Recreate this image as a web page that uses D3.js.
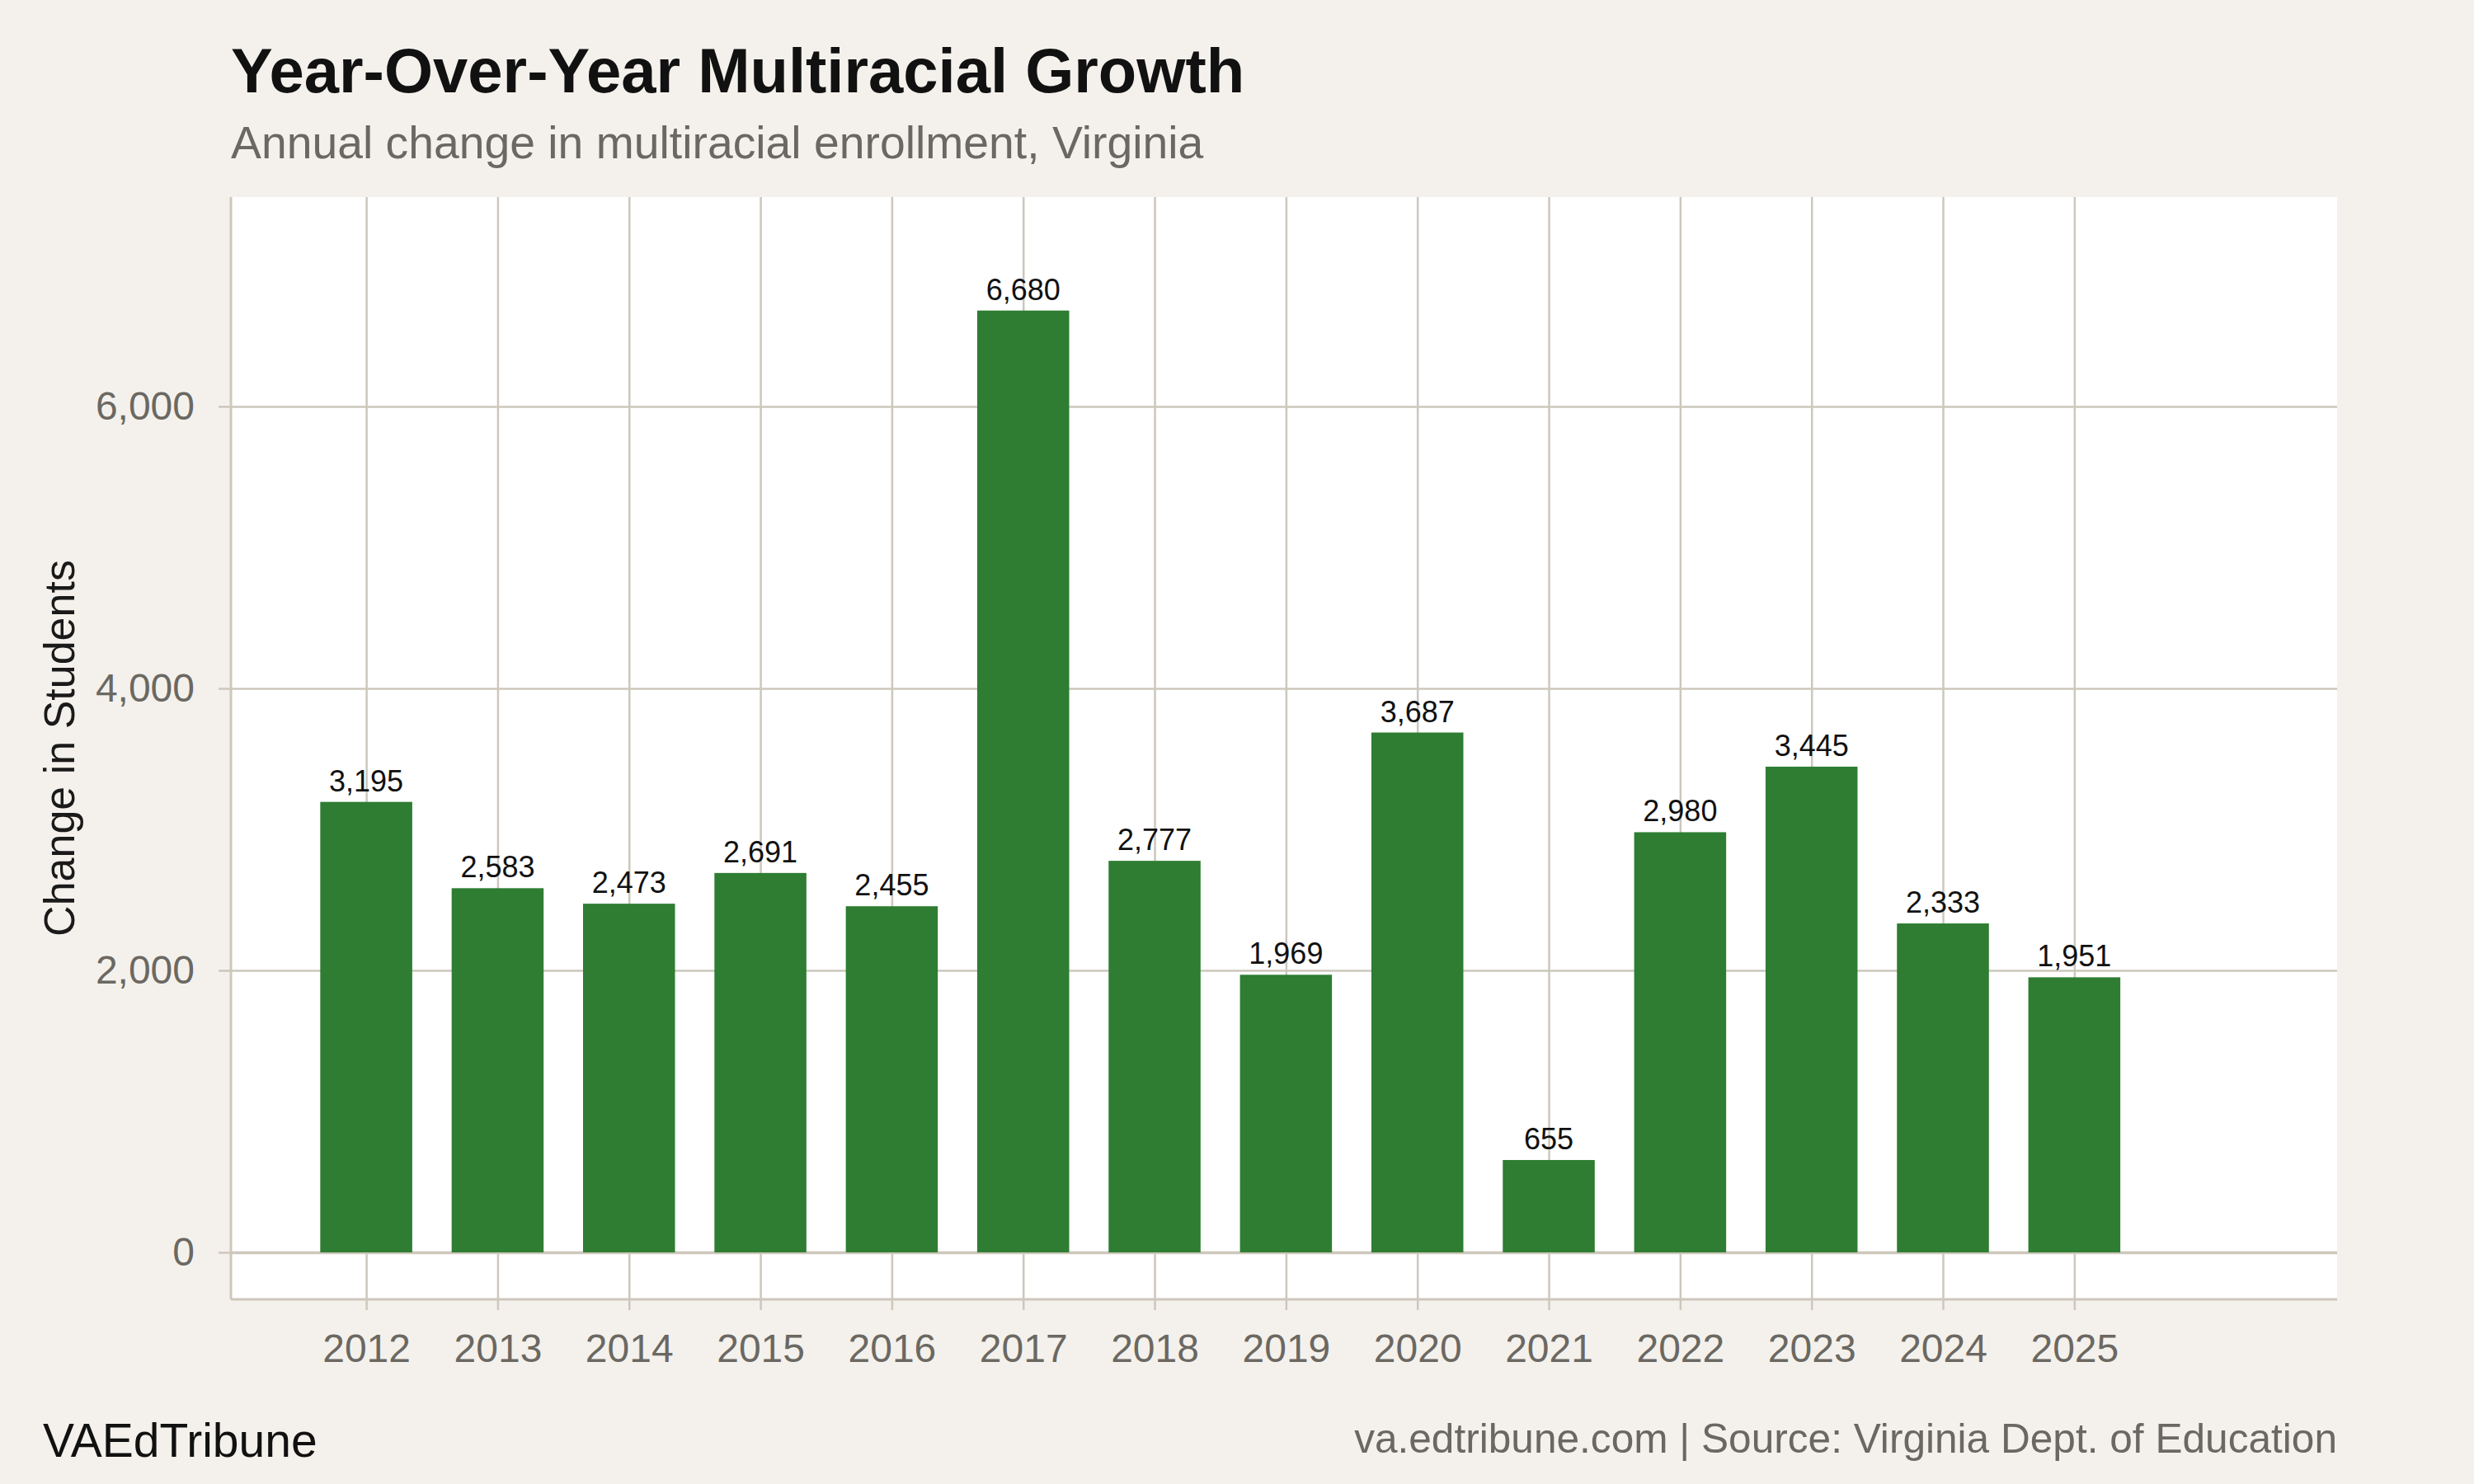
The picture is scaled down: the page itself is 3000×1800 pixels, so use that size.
<!DOCTYPE html>
<html>
<head>
<meta charset="utf-8">
<script src="https://cdn.jsdelivr.net/npm/d3@7"></script>
<style>
  body { margin: 0; background: #f4f1ec; }
  text { font-family: "Liberation Sans", Arial, Helvetica, sans-serif; }
</style>
</head>
<body>
<div id="chart"></div>
<script>
const years = [2012, 2013, 2014, 2015, 2016, 2017, 2018, 2019, 2020, 2021, 2022, 2023, 2024, 2025];
const changes = [3195, 2583, 2473, 2691, 2455, 6680, 2777, 1969, 3687, 655, 2980, 3445, 2333, 1951];
const yTicks = [0, 2000, 4000, 6000];

const W = 3000, H = 1800;
const panel = { left: 280, right: 2834, top: 239, bottom: 1576 };
const gridColor = "#cdc7bc";
const barColor = "#2e7d32";
const grayText = "#6b6862";

const svg = d3.select("#chart")
  .append("svg")
  .attr("width", W)
  .attr("height", H);

svg.append("rect")
  .attr("width", W)
  .attr("height", H)
  .attr("fill", "#f4f1ec");

// scales
const x = d3.scaleLinear()
  .domain([2010.97, 2027.0])
  .range([panel.left, panel.right]);

const y = d3.scaleLinear()
  .domain([-333, 7485])
  .range([panel.bottom, panel.top]);

// panel background
svg.append("rect")
  .attr("x", panel.left)
  .attr("y", panel.top)
  .attr("width", panel.right - panel.left)
  .attr("height", panel.bottom - panel.top)
  .attr("fill", "#ffffff");

// horizontal grid
svg.append("g")
  .attr("transform", `translate(${panel.left},0)`)
  .call(d3.axisLeft(y).tickValues(yTicks).tickSize(-(panel.right - panel.left)).tickFormat(""))
  .call(g => g.select(".domain").remove())
  .call(g => g.selectAll("line")
    .attr("stroke", gridColor)
    .attr("stroke-width", d => d === 0 ? 3.5 : 2.5));

// vertical grid
svg.append("g")
  .attr("transform", `translate(0,${panel.bottom})`)
  .call(d3.axisBottom(x).tickValues(years).tickSize(-(panel.bottom - panel.top)).tickFormat(""))
  .call(g => g.select(".domain").remove())
  .call(g => g.selectAll("line").attr("stroke", gridColor).attr("stroke-width", 2.5));

// bars
const bw = 0.7;
svg.selectAll(".bar")
  .data(years)
  .enter()
  .append("rect")
  .attr("class", "bar")
  .attr("x", (d, i) => x(d - bw / 2))
  .attr("y", (d, i) => y(changes[i]))
  .attr("width", x(bw) - x(0))
  .attr("height", (d, i) => y(0) - y(changes[i]))
  .attr("fill", barColor);

// value labels
svg.selectAll(".val")
  .data(years)
  .enter()
  .append("text")
  .attr("class", "val")
  .attr("x", d => x(d))
  .attr("y", (d, i) => y(changes[i]) - 13)
  .attr("text-anchor", "middle")
  .attr("font-size", 36)
  .attr("fill", "#111")
  .text((d, i) => d3.format(",")(changes[i]));

// y axis
svg.append("g")
  .attr("transform", `translate(${panel.left},0)`)
  .call(d3.axisLeft(y).tickValues(yTicks).tickSize(15).tickPadding(29).tickFormat(d3.format(",")))
  .call(g => g.select(".domain")
    .attr("d", `M0,${panel.top}V${panel.bottom}`)
    .attr("stroke", gridColor).attr("stroke-width", 3))
  .call(g => g.selectAll(".tick line").attr("stroke", gridColor).attr("stroke-width", 2.5))
  .call(g => g.selectAll("text")
    .attr("font-size", 48)
    .attr("fill", grayText)
    .attr("font-family", "Liberation Sans, Arial, sans-serif"));

// x axis
svg.append("g")
  .attr("transform", `translate(0,${panel.bottom})`)
  .call(d3.axisBottom(x).tickValues(years).tickSize(13).tickPadding(29).tickFormat(d3.format("d")))
  .call(g => g.select(".domain")
    .attr("d", `M${panel.left},0H${panel.right}`)
    .attr("stroke", gridColor).attr("stroke-width", 3))
  .call(g => g.selectAll(".tick line").attr("stroke", gridColor).attr("stroke-width", 2.5))
  .call(g => g.selectAll("text")
    .attr("font-size", 48)
    .attr("fill", grayText)
    .attr("font-family", "Liberation Sans, Arial, sans-serif"));

// y axis title
svg.append("text")
  .attr("transform", `translate(90,${(panel.top + panel.bottom) / 2}) rotate(-90)`)
  .attr("text-anchor", "middle")
  .attr("font-size", 52)
  .attr("fill", "#1a1a1a")
  .text("Change in Students");

// title and subtitle
svg.append("text")
  .attr("x", 280)
  .attr("y", 112)
  .attr("font-size", 76)
  .attr("font-weight", "bold")
  .attr("fill", "#111")
  .text("Year-Over-Year Multiracial Growth");

svg.append("text")
  .attr("x", 280)
  .attr("y", 192)
  .attr("font-size", 55.3)
  .attr("fill", grayText)
  .text("Annual change in multiracial enrollment, Virginia");

// footer
svg.append("text")
  .attr("x", 52)
  .attr("y", 1767)
  .attr("font-size", 57)
  .attr("fill", "#111")
  .text("VAEdTribune");

svg.append("text")
  .attr("x", panel.right)
  .attr("y", 1762)
  .attr("text-anchor", "end")
  .attr("font-size", 49.6)
  .attr("fill", grayText)
  .text("va.edtribune.com | Source: Virginia Dept. of Education");
</script>
</body>
</html>
